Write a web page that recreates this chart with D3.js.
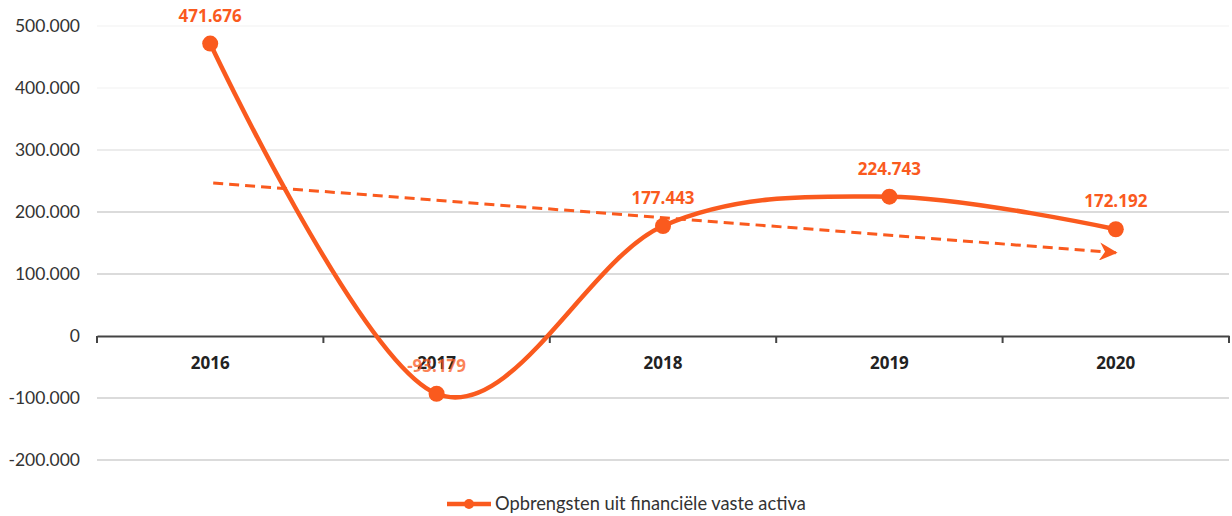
<!DOCTYPE html>
<html><head><meta charset="utf-8">
<script src="https://cdn.jsdelivr.net/npm/d3@7/dist/d3.min.js"></script>
<style>body{margin:0;background:#fff}svg{display:block}</style>
</head><body>
<svg id="c" width="1232" height="516"></svg>
<script>
const categories = ["2016","2017","2018","2019","2020"];
const values = [471676, -93179, 177443, 224743, 172192];
const yTicks = [-200000,-100000,0,100000,200000,300000,400000,500000];
const seriesName = "Opbrengsten uit financiële vaste activa";

const orange = "#FA5A1E";
const svg = d3.select("#c");
const x = d3.scaleBand().domain(categories).range([97, 1229]);
const y = d3.scaleLinear().domain([-200000, 500000]).range([460, 26]);
const fmt = v => d3.format(",")(v).replace(/,/g, ".").replace("\u2212", "-");
const cx = d => x(d) + x.bandwidth()/2;

// gridlines
svg.append("g").selectAll("line").data(yTicks.filter(t => t !== 0)).join("line")
  .attr("x1", 97).attr("x2", 1229)
  .attr("y1", d => y(d)).attr("y2", d => y(d))
  .attr("stroke", d => d >= 400000 ? "#f6f6f6" : (d === 300000 ? "#e6e6e6" : "#cfcfcf"))
  .attr("stroke-width", 1.5);

// y labels
svg.append("g").selectAll("text").data(yTicks).join("text")
  .attr("x", 80).attr("y", d => y(d)).attr("dy", "0.35em")
  .attr("text-anchor", "end")
  .attr("font-family", "Lato, 'Open Sans', sans-serif").attr("font-size", 17.5)
  .attr("fill", "#333").text(d => d === 0 ? "0" : fmt(d));

// x axis
const xAxis = d3.axisBottom(x).tickSize(0).tickFormat("");
const ax = svg.append("g").attr("transform", `translate(0,${y(0)})`).call(xAxis);
ax.select(".domain").attr("stroke", "#444").attr("stroke-width", 2.2);
const bounds = categories.map(c => x(c)).concat([x.range()[1]]);
svg.append("g").selectAll("line").data(bounds).join("line")
  .attr("x1", d => d).attr("x2", d => d)
  .attr("y1", y(0)).attr("y2", y(0) + 7)
  .attr("stroke", "#444").attr("stroke-width", 2);

// category labels
svg.append("g").selectAll("text").data(categories).join("text")
  .attr("x", d => cx(d)).attr("y", y(0) + 27).attr("dy", "0.35em")
  .attr("text-anchor", "middle")
  .attr("font-family", "'Open Sans', sans-serif").attr("font-weight", "bold").attr("font-size", 17)
  .attr("fill", "#222").text(d => d);

// trend line (linear regression)
const n = values.length;
const xs = d3.range(n);
const mx = d3.mean(xs), my = d3.mean(values);
const slope = d3.sum(xs, i => (i - mx) * (values[i] - my)) / d3.sum(xs, i => (i - mx) ** 2);
const icpt = my - slope * mx;
svg.append("defs").append("marker").attr("id", "arr")
  .attr("viewBox", "0 0 10 10").attr("refX", 9).attr("refY", 5)
  .attr("markerWidth", 6).attr("markerHeight", 6).attr("markerUnits", "strokeWidth")
  .attr("orient", "auto")
  .append("path").attr("d", "M0,0 L10,5 L0,10 L3,5 Z").attr("fill", orange);
const tx0 = cx(categories[0]) + 3, tx1 = cx(categories[n-1]);
svg.append("line")
  .attr("x1", tx0).attr("y1", y(icpt))
  .attr("x2", tx1).attr("y2", y(icpt + slope * (n - 1)))
  .attr("stroke", orange).attr("stroke-width", 3)
  .attr("stroke-dasharray", "10,6").attr("marker-end", "url(#arr)");

// series line
const pts = categories.map((c, i) => [cx(c), y(values[i])]);
svg.append("path").datum(pts)
  .attr("d", d3.line().curve(d3.curveCardinal.tension(0)))
  .attr("fill", "none").attr("stroke", orange).attr("stroke-width", 4.5);
svg.append("g").selectAll("circle").data(pts).join("circle")
  .attr("cx", d => d[0]).attr("cy", d => d[1]).attr("r", 8).attr("fill", orange);

// data labels
svg.append("g").selectAll("text").data(categories).join("text")
  .attr("x", d => cx(d)).attr("y", (d, i) => y(values[i]) - 28).attr("dy", "0.35em")
  .attr("text-anchor", "middle")
  .attr("font-family", "'Open Sans', sans-serif").attr("font-weight", "bold").attr("font-size", 17)
  .attr("fill", orange).attr("fill-opacity", (d, i) => values[i] < 0 ? 0.75 : 1)
  .text((d, i) => fmt(values[i]));

// legend
const lg = svg.append("g").attr("transform", "translate(447,504)");
lg.append("line").attr("x1", 0).attr("x2", 44).attr("stroke", orange).attr("stroke-width", 4.5);
lg.append("circle").attr("cx", 22).attr("r", 5).attr("fill", orange);
lg.append("text").attr("x", 48).attr("dy", "0.35em")
  .attr("font-family", "Lato, 'Open Sans', sans-serif").attr("font-size", 18.3)
  .attr("fill", "#333").text(seriesName);
</script>
</body></html>
